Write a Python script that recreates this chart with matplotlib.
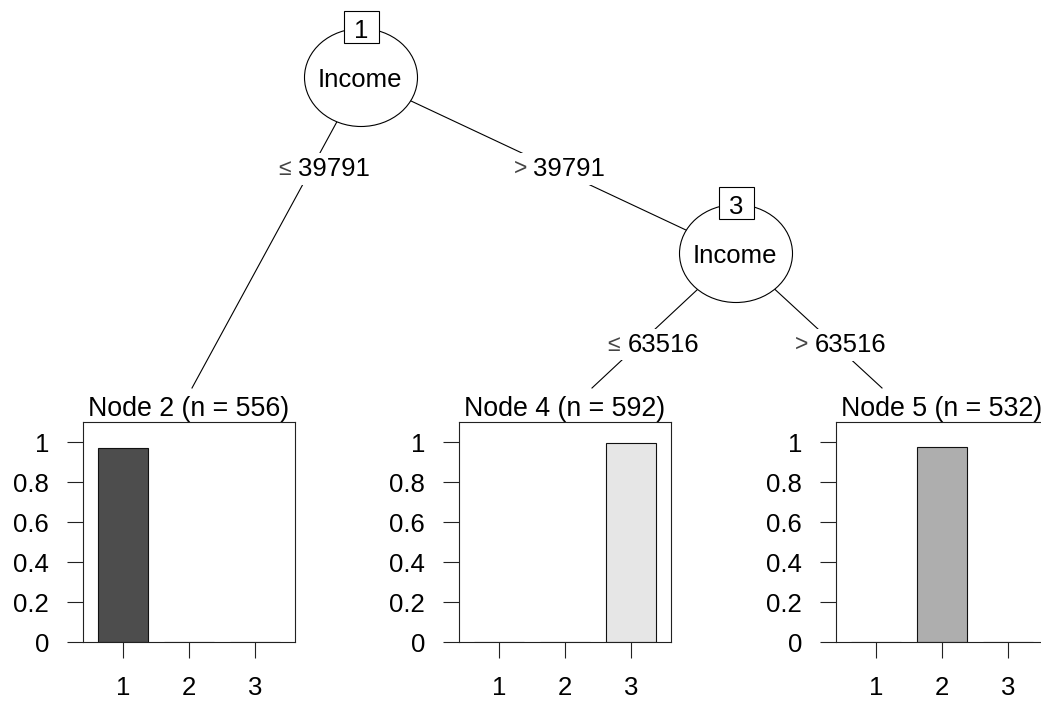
import matplotlib
matplotlib.use("Agg")
import matplotlib.pyplot as plt
from matplotlib.patches import Ellipse, Rectangle

plt.rcParams['font.family'] = ['Liberation Sans', 'DejaVu Sans']

# ---- tree data ----
split_variable = "Income"
inner_ids = [1, 3]
split_points = [39791, 63516]

terminal_ids = [2, 4, 5]
terminal_n = [556, 592, 532]
classes = ["1", "2", "3"]
# class proportions per terminal node
node2_props = [0.97, 0.0, 0.0]
node4_props = [0.0, 0.0, 0.995]
node5_props = [0.0, 0.975, 0.0]
class_colors = ["#4D4D4D", "#AEAEAE", "#E6E6E6"]

W, H = 1041, 702
DPI = 100
FS = 18.5
TITLE_FS = 19.3

fig = plt.figure(figsize=(W / DPI, H / DPI), dpi=DPI)
fig.patch.set_facecolor("white")

# overlay in pixel coordinates for the tree skeleton
tree = fig.add_axes([0, 0, 1, 1])
tree.set_xlim(0, W)
tree.set_ylim(H, 0)
tree.axis("off")

inner_pos = {1: (361, 77.5), 3: (736, 253.5)}
edge_end = {2: (192, 388), 4: (592, 388), 5: (882, 388)}
edges = [(1, 2), (1, 3), (3, 4), (3, 5)]


def pos(k):
    return inner_pos.get(k, edge_end.get(k))


for a, b in edges:
    (x0, y0), (x1, y1) = pos(a), pos(b)
    tree.plot([x0, x1], [y0, y1], color="black", lw=0.8, zorder=1)

for k in inner_ids:
    cx, cy = inner_pos[k]
    tree.add_patch(Ellipse((cx, cy), 113, 98, facecolor="white",
                           edgecolor="black", lw=0.8, zorder=2))
    tree.text(cx - 1, cy + 9.5, split_variable, ha="center", va="baseline",
              fontsize=FS, zorder=3)
    tree.add_patch(Rectangle((cx - 17.5, cy - 66.5), 35, 32, facecolor="white",
                             edgecolor="black", lw=0.8, zorder=4))
    tree.text(cx, cy - 39.5, str(k), ha="center", va="baseline",
              fontsize=FS, zorder=5)

# edge labels: (symbol, symbol centre x, number left x, baseline y, value)
edge_labels = [
    ("≤", 285, 298, 176, split_points[0]),
    (">", 521, 533, 176, split_points[0]),
    ("≤", 614, 628, 352, split_points[1]),
    (">", 802, 815, 352, split_points[1]),
]
for sym, sx, nx, by, val in edge_labels:
    tree.text(sx, by - 1, sym, ha="center", va="baseline", fontsize=FS - 2,
              color="#444444", zorder=6,
              bbox=dict(fc="white", ec="none", pad=3))
    tree.text(nx, by, str(val), ha="left", va="baseline", fontsize=FS,
              zorder=6, bbox=dict(fc="white", ec="none", pad=3))

# ---- terminal node bar panels ----
panel_left = [83, 459, 836]
panel_w = 212
panel_top, panel_bottom = 422, 642
all_props = [node2_props, node4_props, node5_props]
xpos = [1, 2, 3]

for left, nid, n, props in zip(panel_left, terminal_ids, terminal_n, all_props):
    ax = fig.add_axes([left / W, (H - panel_bottom) / H,
                       panel_w / W, (panel_bottom - panel_top) / H])
    ax.bar(xpos, props, width=0.75, color=class_colors,
           edgecolor="#111111", linewidth=0.8)
    ax.set_xlim(0.4, 3.6)
    ax.set_ylim(0, 1.1)
    ax.set_xticks(xpos)
    ax.set_xticklabels(classes)
    ax.set_yticks([0, 0.2, 0.4, 0.6, 0.8, 1])
    ax.set_yticklabels(["0", "0.2", "0.4", "0.6", "0.8", "1"])
    ax.tick_params(direction="out", length=11.5, width=0.8, labelsize=FS,
                   color="#222222")
    ax.tick_params(axis="y", pad=13)
    ax.tick_params(axis="x", pad=13)
    for s in ax.spines.values():
        s.set_linewidth(0.8)
        s.set_color("#222222")
    ax.set_title(f"Node {nid} (n = {n})", fontsize=TITLE_FS, pad=3.5)

fig.savefig("out.png", dpi=DPI, facecolor="white")
